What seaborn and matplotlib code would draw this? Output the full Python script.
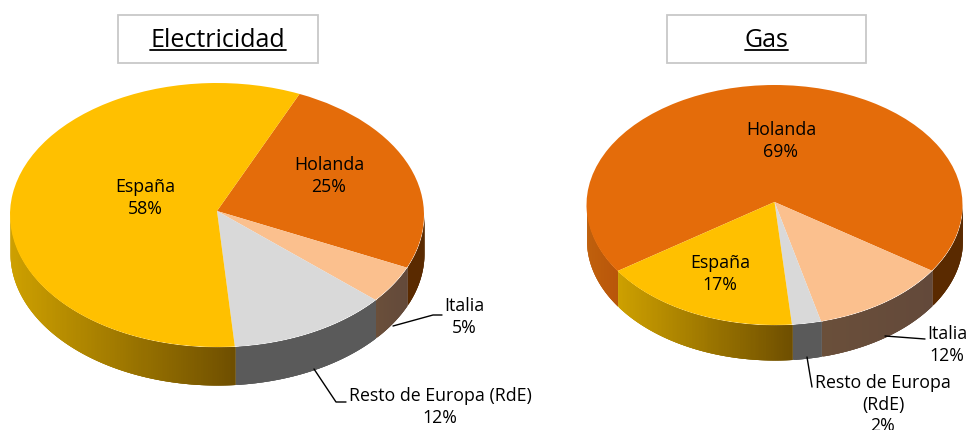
import numpy as np
import matplotlib.pyplot as plt
import seaborn as sns

W, H = 970, 430

# slice order is clockwise from the start angle
elec_names = ["Holanda", "Italia", "Resto", "España"]
elec_values = [25.0, 4.6, 12.5, 57.9]
gas_names = ["Holanda", "Italia", "Resto", "España"]
gas_values = [68.5, 11.8, 2.5, 17.2]

top_colors = {"España": "#FFC000", "Holanda": "#E46C0A", "Italia": "#FBC08E", "Resto": "#D9D9D9"}
# wall shade at left and right end of each visible piece
wall_colors = {"España": ("#CDA000", "#6E4E00"), "Italia": ("#6A4F3A", "#63493A"), "Resto": ("#5A5A5A", "#5A5A5A")}
holanda_left = ("#C0600C", "#B8560A")
holanda_right = ("#5A2A00", "#5A2A00")

sns.set_theme(style="white")
plt.rcParams["font.family"] = ["Open Sans", "DejaVu Sans"]

fig = plt.figure(figsize=(W / 100, H / 100), dpi=100)


def draw_wall(ax, t1, t2, depth, shades):
    # t1 > t2, angles in degrees, only the part below the centre shows
    t1, t2 = min(t1, 360), max(t2, 180)
    if t1 <= t2:
        return
    angles = np.append(np.arange(t2, t1, 0.5), t1)  # left to right
    xs = np.cos(np.radians(angles))
    pal = sns.blend_palette(shades, n_colors=128)
    for i in range(len(angles) - 1):
        # each piece runs on under the next one so no seams show
        th = np.linspace(angles[i], angles[min(i + 3, len(angles) - 1)], 4)
        x = np.cos(np.radians(th))
        y = np.sin(np.radians(th))
        frac = (xs[i] - xs[0]) / max(xs[-1] - xs[0], 1e-6)
        ax.fill_between(x, y, y - depth, color=pal[int(frac * 127)], lw=0)


def draw_pie(values, names, start, cx, cy, rx, ry, depth_px, apex_up):
    ax = fig.add_axes([0, 0, 1, 1])
    wedges, _ = ax.pie(values, colors=[top_colors[n] for n in names], startangle=start,
                       counterclock=False, radius=1, frame=True,
                       wedgeprops={"linewidth": 0, "edgecolor": "none"})
    ax.set_aspect("auto")
    ax.set_xlim(-cx / rx, (W - cx) / rx)
    ax.set_ylim((cy - H) / ry, cy / ry)
    ax.axis("off")
    ax.patch.set_alpha(0)
    depth = depth_px / ry

    # side wall, all pieces
    pos = start
    for v, n in zip(values, names):
        end = pos - v * 3.6
        for shift in (0, 360):
            hi, lo = pos + shift, end + shift
            if n == "Holanda":
                # split at the bottom: lit on the left, dark on the right
                draw_wall(ax, min(hi, 270), lo, depth, holanda_left)
                draw_wall(ax, hi, max(lo, 270), depth, holanda_right)
            else:
                draw_wall(ax, hi, lo, depth, wall_colors[n])
        pos = end

    # tilted view puts the pie tip slightly above the ellipse centre
    for w in wedges:
        w.set_zorder(5)
        v = w.get_path().vertices
        v[np.hypot(v[:, 0], v[:, 1]) < 1e-6, 1] = apex_up / ry
    return ax


draw_pie(elec_values, elec_names, 66.5, 217, 215, 207, 132, 38, 4)
draw_pie(gas_values, gas_names, 213.4, 774.5, 205, 188, 120, 35, 3)

# text layer in pixels
over = fig.add_axes([0, 0, 1, 1], zorder=10)
over.set_xlim(0, W)
over.set_ylim(H, 0)
over.axis("off")
over.patch.set_alpha(0)

for x0, x1, title, u0, u1 in [(118, 318, "Electricidad", 150, 286), (667, 866, "Gas", 745, 788)]:
    over.add_patch(plt.Rectangle((x0, 15), x1 - x0, 48, fc="white", ec="#C8C8C8", lw=1.3))
    over.text((u0 + u1) / 2, 47, title, fontsize=18, ha="center", va="baseline", color="black")
    over.plot([u0, u1], [49.5, 49.5], color="black", lw=1.3)

labels = [
    (145, 187, "España"), (145, 209, "58%"),
    (329, 165, "Holanda"), (329, 187, "25%"),
    (464, 306, "Italia"), (464, 328, "5%"),
    (440, 396, "Resto de Europa (RdE)"), (440, 418, "12%"),
    (781, 130, "Holanda"), (781, 152, "69%"),
    (720, 263, "España"), (720, 285, "17%"),
    (947, 334, "Italia"), (947, 356, "12%"),
    (883, 383, "Resto de Europa"), (883, 405, "(RdE)"), (883, 426, "2%"),
]
for x, y, s in labels:
    over.text(x, y, s, fontsize=12.8, ha="center", va="center", color="black")

leaders = [
    ([393, 433, 442], [326, 315, 315]),
    ([314, 336, 346], [369, 402, 402]),
    ([885, 925], [336, 339]),
    ([807, 812], [357, 387]),
]
for xs, ys in leaders:
    over.plot(xs, ys, color="black", lw=1)

fig.savefig("out.png", dpi=100)
